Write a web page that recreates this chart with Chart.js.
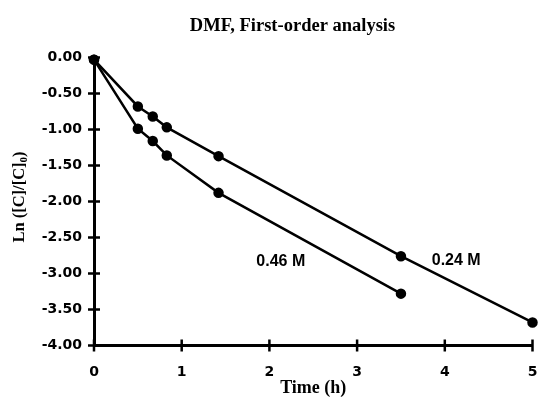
<!DOCTYPE html>
<html>
<head>
<meta charset="utf-8">
<script src="https://cdn.jsdelivr.net/npm/chart.js@4/dist/chart.umd.min.js"></script>
<style>
  html, body { margin: 0; padding: 0; background: #fff; overflow: hidden; }
  canvas { display: block; }
</style>
</head>
<body>
<canvas id="kinetics" width="539" height="399"></canvas>
<script>
// DMF runs, ln([C]/[C]0) against time in hours
const time024 = [0, 0.5, 0.67, 0.83, 1.42, 3.5, 5.0];
const lnC024  = [-0.03, -0.68, -0.82, -0.97, -1.37, -2.76, -3.68];
const time046 = [0, 0.5, 0.67, 0.83, 1.42, 3.5];
const lnC046  = [-0.03, -0.99, -1.16, -1.36, -1.88, -3.28];

// concentration labels placed next to each line (data units)
const seriesNames = ["0.24 M", "0.46 M"];
const labelX = [4.13, 2.13];
const labelY = [-2.82, -2.83];

const chartTitle = "DMF, First-order analysis";
const xTitle = "Time (h)";

function toPoints(xs, ys) {
    return xs.map((x, i) => ({ x: x, y: ys[i] }));
}

const lineStyle = {
    borderColor: "#000",
    backgroundColor: "#000",
    borderWidth: 2.5,
    pointRadius: 4,
    pointHoverRadius: 4,
    showLine: true,
    clip: false,
    tension: 0
};

// crossing tick marks, titles and in-plot labels
const decorations = {
    id: "decorations",
    afterDraw(chart) {
        const ctx = chart.ctx;
        const xs = chart.scales.x, ys = chart.scales.y;
        const area = chart.chartArea;
        ctx.save();
        ctx.strokeStyle = "#000";
        ctx.lineWidth = 2.5;
        ys.ticks.forEach(t => {
            const py = ys.getPixelForValue(t.value);
            ctx.beginPath();
            ctx.moveTo(area.left - 6, py);
            ctx.lineTo(area.left + 6, py);
            ctx.stroke();
        });
        xs.ticks.forEach(t => {
            const px = xs.getPixelForValue(t.value);
            ctx.beginPath();
            ctx.moveTo(px, area.bottom - 6);
            ctx.lineTo(px, area.bottom + 6);
            ctx.stroke();
        });

        ctx.fillStyle = "#000";
        ctx.textAlign = "center";
        ctx.textBaseline = "middle";
        ctx.font = "bold 18.5px 'Liberation Serif', serif";
        ctx.fillText(chartTitle, 292.5, 26);

        ctx.font = "bold 18px 'Liberation Serif', serif";
        ctx.fillText(xTitle, (area.left + area.right) / 2, 388);

        // y title with subscript zero
        ctx.translate(20, 197);
        ctx.rotate(-Math.PI / 2);
        const main = "Ln ([C]/[C]";
        const sub = "0";
        const tail = ")";
        ctx.font = "bold 16.5px 'Liberation Serif', serif";
        const wMain = ctx.measureText(main).width;
        const wTail = ctx.measureText(tail).width;
        ctx.font = "bold 11px 'Liberation Serif', serif";
        const wSub = ctx.measureText(sub).width;
        let x0 = -(wMain + wSub + wTail) / 2;
        ctx.textAlign = "left";
        ctx.font = "bold 16.5px 'Liberation Serif', serif";
        ctx.fillText(main, x0, 0);
        ctx.font = "bold 11px 'Liberation Serif', serif";
        ctx.fillText(sub, x0 + wMain, 4);
        ctx.font = "bold 16.5px 'Liberation Serif', serif";
        ctx.fillText(tail, x0 + wMain + wSub, 0);
        ctx.setTransform(1, 0, 0, 1, 0, 0);

        ctx.textAlign = "center";
        ctx.font = "bold 16px 'Liberation Sans', Arial, sans-serif";
        seriesNames.forEach((name, i) => {
            ctx.fillText(name, xs.getPixelForValue(labelX[i]), ys.getPixelForValue(labelY[i]));
        });
        ctx.restore();
    }
};

const tickFont = { family: "'DejaVu Sans', sans-serif", size: 14, weight: "bold" };

new Chart(document.getElementById("kinetics"), {
    type: "scatter",
    data: {
        datasets: [
            Object.assign({ label: seriesNames[0], data: toPoints(time024, lnC024) }, lineStyle),
            Object.assign({ label: seriesNames[1], data: toPoints(time046, lnC046) }, lineStyle)
        ]
    },
    options: {
        responsive: false,
        animation: false,
        events: [],
        layout: { padding: { top: 57.5, right: 4, bottom: 0, left: 0 } },
        plugins: {
            legend: { display: false },
            title: { display: false },
            tooltip: { enabled: false }
        },
        scales: {
            x: {
                type: "linear",
                min: 0,
                max: 5,
                afterFit: s => {
                    s.height = 53.5;
                    s.paddingLeft = 0;
                    s.paddingRight = 0;
                },
                grid: { display: true, drawOnChartArea: false, drawTicks: false },
                border: { display: true, color: "#000", width: 3 },
                ticks: { stepSize: 1, color: "#000", font: tickFont, padding: 18, maxRotation: 0 }
            },
            y: {
                type: "linear",
                min: -4,
                max: 0,
                afterFit: s => {
                    s.width = 94;
                    s.paddingTop = 0;
                    s.paddingBottom = 0;
                },
                grid: { display: true, drawOnChartArea: false, drawTicks: false },
                border: { display: true, color: "#000", width: 3 },
                ticks: {
                    stepSize: 0.5,
                    color: "#000",
                    font: tickFont,
                    padding: 12,
                    callback: v => v.toFixed(2)
                }
            }
        }
    },
    plugins: [decorations]
});
</script>
</body>
</html>
